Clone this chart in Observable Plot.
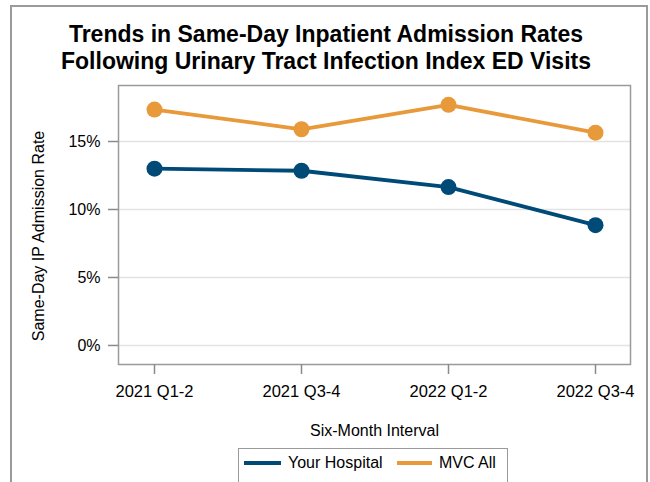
<!DOCTYPE html>
<html>
<head>
<meta charset="utf-8">
<script src="https://cdn.jsdelivr.net/npm/d3@7"></script>
<script src="https://cdn.jsdelivr.net/npm/@observablehq/plot@0.6"></script>
<style>
  html, body { margin: 0; padding: 0; background: #fff; }
  #wrap { position: relative; width: 650px; height: 482px; overflow: hidden; font-family: "Liberation Sans", Arial, sans-serif; }
  #border { position: absolute; left: 10px; top: 5px; width: 638px; height: 500px; border: 2px solid #9a9a9a; box-sizing: border-box; }
  #title { position: absolute; left: 0; width: 652px; top: 21px; text-align: center; font-weight: bold; font-size: 23px; line-height: 27px; color: #000; }
  #chart { position: absolute; left: 0; top: 0; }
  #legend { position: absolute; left: 238px; top: 448px; width: 270px; height: 50px; border: 1.5px solid #9a9a9a; box-sizing: border-box; font-size: 16px; color: #000; }
  .li { position: absolute; top: 5px; display: flex; align-items: center; }
  .sw { display: inline-block; height: 4px; margin-right: 7px; }
</style>
</head>
<body>
<div id="wrap">
  <div id="border"></div>
  <div id="chart"></div>
  <div id="title">Trends in Same-Day Inpatient Admission Rates<br>Following Urinary Tract Infection Index ED Visits</div>
  <div id="legend"></div>
</div>
<script>
const periods = ["2021 Q1-2", "2021 Q3-4", "2022 Q1-2", "2022 Q3-4"];
const seriesNames = ["Your Hospital", "MVC All"];
const yourHospital = [13.0, 12.85, 11.65, 8.85];
const mvcAll = [17.35, 15.9, 17.7, 15.65];
const colors = ["#004a77", "#e8993a"];
const yTicks = [0, 5, 10, 15];
const xTitle = "Six-Month Interval";
const yTitle = "Same-Day IP Admission Rate";

const rows = [];
[yourHospital, mvcAll].forEach((vals, si) => {
  vals.forEach((v, i) => rows.push({period: periods[i], value: v, series: seriesNames[si]}));
});

const font = '"Liberation Sans", Arial, sans-serif';
const plot = Plot.plot({
  width: 650,
  height: 482,
  marginTop: 85,
  marginBottom: 118,
  marginLeft: 118,
  marginRight: 20,
  style: {fontFamily: font, fontSize: "16px", color: "#000", background: "transparent"},
  x: {type: "point", domain: periods, padding: 0.24},
  y: {domain: [-1.4, 19.12]},
  color: {domain: seriesNames, range: colors},
  marks: [
    Plot.gridY(yTicks, {stroke: "#e3e3e3", strokeOpacity: 1, strokeWidth: 1.5}),
    Plot.frame({stroke: "#9a9a9a", strokeWidth: 1.5}),
    Plot.axisY(yTicks, {tickSize: 10, tickPadding: 8, tickFormat: d => d + "%", stroke: "#8a8a8a", strokeWidth: 1.5, fontSize: 16, label: null}),
    Plot.axisX({tickSize: 10, tickPadding: 11, stroke: "#8a8a8a", strokeWidth: 1.5, fontSize: 16.5, label: null}),
    Plot.text([yTitle], {frameAnchor: "left", textAnchor: "middle", lineAnchor: "middle", rotate: -90, dx: -80, dy: 11, fontSize: 16, fill: "#000", text: d => d}),
    Plot.text([xTitle], {frameAnchor: "bottom", dy: 66, lineAnchor: "middle", fontSize: 16, fill: "#000", text: d => d}),
    Plot.line(rows, {x: "period", y: "value", z: "series", stroke: "series", strokeWidth: 3.8}),
    Plot.dot(rows, {x: "period", y: "value", fill: "series", r: 8})
  ]
});
document.getElementById("chart").appendChild(plot);

const legend = document.getElementById("legend");
const pos = [5, 158];
const swW = [37, 35];
seriesNames.forEach((s, i) => {
  const d = document.createElement("div");
  d.className = "li";
  d.style.left = pos[i] + "px";
  d.innerHTML = `<span class="sw" style="width:${swW[i]}px;background:${colors[i]}"></span><span>${s}</span>`;
  legend.appendChild(d);
});
</script>
</body>
</html>
